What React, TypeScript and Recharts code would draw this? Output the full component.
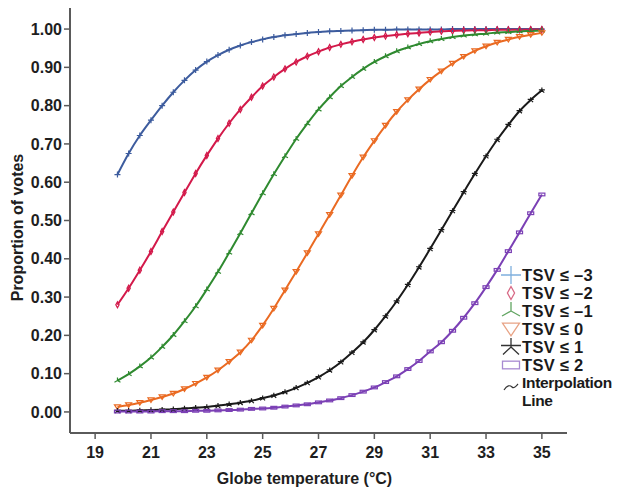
import React from "react";
import { LineChart, Line, XAxis, YAxis } from "recharts";

// globe temperature (°C) sampled along the fitted curves
const temps = [
  19.8, 20.2, 20.6, 21.0, 21.4, 21.8, 22.2, 22.6, 23.0, 23.4, 23.8, 24.2, 24.6,
  25.0, 25.4, 25.8, 26.2, 26.6, 27.0, 27.4, 27.8, 28.2, 28.6, 29.0, 29.4, 29.8,
  30.2, 30.6, 31.0, 31.4, 31.8, 32.2, 32.6, 33.0, 33.4, 33.8, 34.2, 34.6, 35.0,
];

// cumulative proportion of votes, TSV <= -3 ... TSV <= 2
const tsvLeM3 = [
  0.62, 0.675, 0.722, 0.762, 0.8, 0.835, 0.866, 0.893, 0.915, 0.932, 0.946, 0.957, 0.966,
  0.973, 0.979, 0.984, 0.987, 0.99, 0.992, 0.994, 0.995, 0.996, 0.997, 0.998, 0.998, 0.999,
  0.999, 0.999, 0.999, 0.999, 1.0, 1.0, 1.0, 1.0, 1.0, 1.0, 1.0, 1.0, 1.0,
];
const tsvLeM2 = [
  0.28, 0.323, 0.37, 0.419, 0.471, 0.522, 0.573, 0.623, 0.67, 0.714, 0.754, 0.79, 0.822,
  0.851, 0.875, 0.896, 0.914, 0.929, 0.941, 0.952, 0.96, 0.967, 0.973, 0.978, 0.982, 0.985,
  0.988, 0.99, 0.992, 0.994, 0.995, 0.996, 0.997, 0.997, 0.998, 0.998, 0.998, 0.999, 0.999,
];
const tsvLeM1 = [
  0.082, 0.099, 0.119, 0.142, 0.17, 0.201, 0.237, 0.276, 0.32, 0.366, 0.416, 0.467, 0.519,
  0.571, 0.621, 0.668, 0.713, 0.753, 0.79, 0.822, 0.851, 0.875, 0.896, 0.914, 0.929, 0.942,
  0.952, 0.961, 0.968, 0.974, 0.979, 0.983, 0.986, 0.988, 0.991, 0.992, 0.994, 0.995, 0.996,
];
const tsvLe0 = [
  0.013, 0.018, 0.024, 0.031, 0.039, 0.048, 0.06, 0.074, 0.09, 0.109, 0.131, 0.156, 0.187,
  0.226, 0.27, 0.318, 0.366, 0.415, 0.465, 0.515, 0.566, 0.617, 0.665, 0.708, 0.748, 0.784,
  0.815, 0.843, 0.868, 0.89, 0.91, 0.928, 0.943, 0.955, 0.965, 0.973, 0.98, 0.985, 0.99,
];
const tsvLe1 = [
  0.003, 0.003, 0.004, 0.005, 0.006, 0.007, 0.009, 0.011, 0.013, 0.016, 0.02, 0.024, 0.029,
  0.036, 0.043, 0.052, 0.063, 0.076, 0.091, 0.109, 0.13, 0.155, 0.182, 0.214, 0.25, 0.289,
  0.332, 0.378, 0.426, 0.475, 0.525, 0.574, 0.622, 0.668, 0.711, 0.75, 0.786, 0.815, 0.84,
];
const tsvLe2 = [
  0.001, 0.001, 0.001, 0.001, 0.002, 0.002, 0.002, 0.003, 0.003, 0.004, 0.005, 0.006, 0.008,
  0.009, 0.011, 0.014, 0.017, 0.02, 0.025, 0.03, 0.036, 0.044, 0.053, 0.064, 0.078, 0.093,
  0.112, 0.133, 0.158, 0.182, 0.212, 0.246, 0.284, 0.326, 0.371, 0.42, 0.469, 0.519, 0.568,
];

const xTicks = [19, 21, 23, 25, 27, 29, 31, 33, 35];
const yTicks = [0, 0.1, 0.2, 0.3, 0.4, 0.5, 0.6, 0.7, 0.8, 0.9, 1.0];
const legendLabels = ["TSV ≤ –3", "TSV ≤ –2", "TSV ≤ –1", "TSV ≤ 0", "TSV ≤ 1", "TSV ≤ 2"];

const FONT = '"Liberation Sans", Arial, sans-serif';

type Kind = "plus" | "diamond" | "tri" | "down" | "star" | "rect";

const series: { key: string; kind: Kind; color: string; legend: string }[] = [
  { key: "m3", kind: "plus", color: "#3d5c9e", legend: "#7fb0de" },
  { key: "m2", kind: "diamond", color: "#d3194a", legend: "#d86a86" },
  { key: "m1", kind: "tri", color: "#2f8a30", legend: "#62a562" },
  { key: "z0", kind: "down", color: "#ea6a22", legend: "#e8a385" },
  { key: "p1", kind: "star", color: "#1a1a1a", legend: "#333333" },
  { key: "p2", kind: "rect", color: "#7b40b5", legend: "#a88ad2" },
];

const rows = temps.map((t, i) => ({
  t,
  m3: tsvLeM3[i],
  m2: tsvLeM2[i],
  m1: tsvLeM1[i],
  z0: tsvLe0[i],
  p1: tsvLe1[i],
  p2: tsvLe2[i],
}));

function Marker({ kind, cx, cy, s, color, w = 1.2 }: { kind: Kind; cx: number; cy: number; s: number; color: string; w?: number }) {
  const common = { stroke: color, strokeWidth: w, fill: "none" };
  switch (kind) {
    case "plus":
      return <path d={`M${cx - s},${cy}H${cx + s}M${cx},${cy - s}V${cy + s}`} {...common} />;
    case "diamond":
      return <path d={`M${cx},${cy - s}L${cx + 0.55 * s},${cy}L${cx},${cy + s}L${cx - 0.55 * s},${cy}Z`} {...common} />;
    case "tri":
      return (
        <path
          d={`M${cx},${cy}V${cy - s}M${cx},${cy}L${cx - s},${cy + 0.55 * s}M${cx},${cy}L${cx + s},${cy + 0.55 * s}`}
          {...common}
        />
      );
    case "down":
      return <path d={`M${cx - s},${cy - 0.7 * s}L${cx + s},${cy - 0.7 * s}L${cx},${cy + 0.8 * s}Z`} {...common} />;
    case "star":
      return (
        <path
          d={`M${cx},${cy}V${cy - 0.9 * s}M${cx - s},${cy - 0.15 * s}H${cx + s}M${cx},${cy}L${cx - 0.8 * s},${cy + 0.75 * s}M${cx},${cy}L${cx + 0.8 * s},${cy + 0.75 * s}`}
          {...common}
        />
      );
    case "rect":
      return <rect x={cx - s} y={cy - 0.45 * s} width={2 * s} height={0.9 * s} {...common} />;
  }
}

const dotFor = (kind: Kind, color: string) => (p: any) => {
  if (p.cx == null || p.cy == null) return <g key={p.index} />;
  return (
    <g key={p.index}>
      <Marker kind={kind} cx={p.cx} cy={p.cy} s={3} color={color} />
    </g>
  );
};

const legendSize: Record<Kind, number> = { plus: 10, diamond: 6.5, tri: 9, down: 8.5, star: 10, rect: 8.5 };

function LegendBox() {
  return (
    <div
      style={{
        position: "absolute",
        left: 500,
        top: 266,
        fontFamily: FONT,
        fontWeight: 700,
        fontSize: 16.5,
        lineHeight: "18px",
        color: "#1a1a1a",
      }}
    >
      {series.map((s, i) => (
        <div key={s.key} style={{ display: "flex", alignItems: "center", height: 18 }}>
          <svg width={22} height={18}>
            <Marker kind={s.kind} cx={11} cy={9} s={legendSize[s.kind]} color={s.legend} w={1.3} />
          </svg>
          <span style={{ letterSpacing: 0.3 }}>{legendLabels[i]}</span>
        </div>
      ))}
      <div style={{ display: "flex", alignItems: "flex-start" }}>
        <svg width={22} height={22}>
          <path d="M4,16 C7,11 10,11 12,13 C14,15 16,12 18,10" stroke="#333" strokeWidth={1.2} fill="none" />
        </svg>
        <span style={{ fontSize: 15.5, letterSpacing: -0.3 }}>
          Interpolation
          <br />
          Line
        </span>
      </div>
    </div>
  );
}

export default function App() {
  const tickStyle = { fontSize: 16, fontWeight: 700, fill: "#1e1e1e", fontFamily: FONT };
  return (
    <div style={{ position: "absolute", left: 0, top: 0, width: 619, height: 488, background: "#fff" }}>
      <LineChart width={619} height={488} data={rows} margin={{ top: 8, right: 52, left: 0, bottom: 0 }}>
        <XAxis
          dataKey="t"
          type="number"
          domain={[18.1, 35.9]}
          ticks={xTicks}
          allowDataOverflow
          height={55}
          axisLine={{ stroke: "#5a5a5a", strokeWidth: 2 }}
          tickLine={{ stroke: "#5a5a5a", strokeWidth: 1.5 }}
          tickSize={6}
          tickMargin={8}
          tick={tickStyle}
          label={{
            value: "Globe temperature (°C)",
            position: "insideBottom",
            offset: 4,
            dx: -14,
            style: { fontSize: 16, fontWeight: 700, fill: "#1e1e1e", fontFamily: FONT },
          }}
        />
        <YAxis
          type="number"
          domain={[-0.055, 1.055]}
          ticks={yTicks}
          allowDataOverflow
          width={70}
          tickFormatter={(v: number) => v.toFixed(2)}
          axisLine={{ stroke: "#5a5a5a", strokeWidth: 2 }}
          tickLine={{ stroke: "#5a5a5a", strokeWidth: 1.5 }}
          tickSize={6}
          tickMargin={2}
          tick={tickStyle}
          label={{
            value: "Proportion of votes",
            angle: -90,
            position: "center",
            dx: -18,
            dy: 7,
            style: { fontSize: 16, fontWeight: 700, fill: "#1e1e1e", fontFamily: FONT, textAnchor: "middle" },
          }}
        />
        {series.map((s) => (
          <Line
            key={s.key}
            dataKey={s.key}
            type="monotone"
            stroke={s.color}
            strokeWidth={2}
            dot={dotFor(s.kind, s.color)}
            activeDot={false}
            isAnimationActive={false}
          />
        ))}
      </LineChart>
      <LegendBox />
    </div>
  );
}
